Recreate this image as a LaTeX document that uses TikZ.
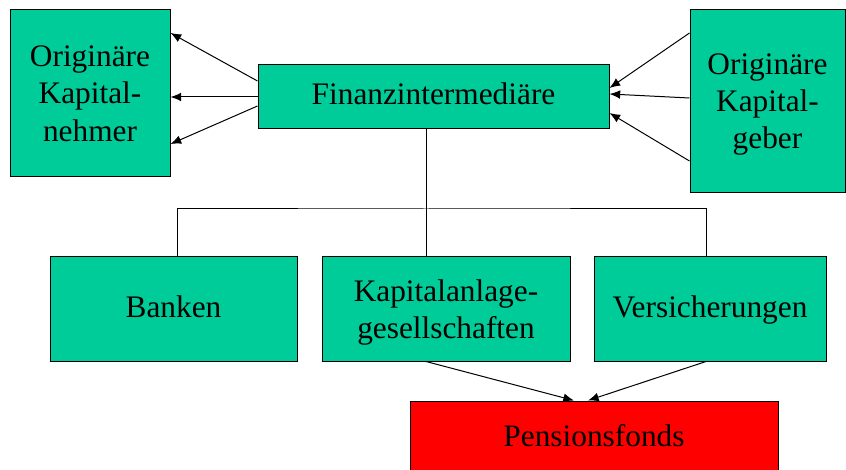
\documentclass[tikz,border=0pt]{standalone}
\usepackage{fontspec}
\setmainfont{Liberation Serif}
\usetikzlibrary{positioning, arrows.meta, calc}
\definecolor{boxgreen}{HTML}{00CC99}

\begin{document}
\begin{tikzpicture}[x=0.75pt, y=-0.75pt, >={Latex[length=8pt,width=6.5pt]},
    box/.style={draw, line width=0.75pt, fill=boxgreen, align=center, inner sep=0pt,
                font=\fontsize{23.5}{28}\selectfont},
    oneline/.style={text height=17pt, text depth=5pt},
    line/.style={line width=0.75pt}]
            \useasboundingbox (0,0) rectangle (846,470);

            \node[box, minimum width=120pt, minimum height=125.25pt] (nehmer) at (90,93.5) {Originäre\\Kapital-\\nehmer};
            \node[box, text depth=0pt, minimum width=116.25pt, minimum height=137.25pt] (geber) at (767.5,101) {Originäre\\Kapital-\\geber};
            \node[box, oneline, minimum width=263.25pt, minimum height=48pt] (fi) at (433.5,97) {Finanzintermediäre};
            \node[box, oneline, minimum width=185.25pt, minimum height=78pt] (banken) at (173.5,309) {Banken};
            \node[box, text depth=0pt, minimum width=186pt, minimum height=78pt] (kag) at (446,309) {Kapitalanlage-\\gesellschaften};
            \node[box, oneline, minimum width=174pt, minimum height=78pt] (vers) at (710,309) {Versicherungen};
            \node[box, oneline, fill=red, minimum width=276pt, minimum height=55.5pt] (pf) at (594,438) {Pensionsfonds};
            \coordinate (hub) at (426,209);

            \path[->, line]
            ([yshift=12pt]fi.west) edge ([yshift=45.4pt]nehmer.east)
            (fi.west) edge (fi.west -| nehmer.east)
            ([yshift=-6.75pt]fi.west) edge ([yshift=-37.9pt]nehmer.east)
            ([yshift=51pt]geber.west) edge ([yshift=6.75pt]fi.east)
            ([yshift=2.25pt]geber.west) edge ([yshift=2.25pt]fi.east)
            ([yshift=-45pt]geber.west) edge ([yshift=-12pt]fi.east)
            ([xshift=-15pt]kag.south) edge ([xshift=-15pt]pf.north)
            ([xshift=-3pt]vers.south) edge ([xshift=-4.5pt]pf.north)
            ;

            \draw[line] (fi.south -| hub) -- ([xshift=-15pt]kag.north);
            \draw[line] ([xshift=3pt]banken.north) |- (hub) -| ([xshift=-3pt]vers.north);
        \end{tikzpicture}
\end{document}
